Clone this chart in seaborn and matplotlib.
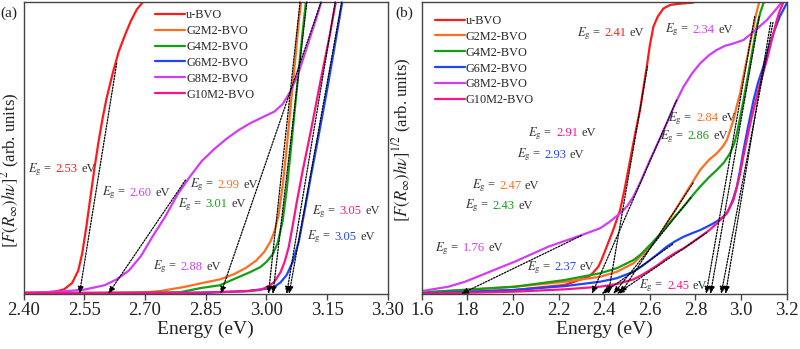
import numpy as np
import matplotlib
matplotlib.use('Agg')
import matplotlib.pyplot as plt
import seaborn as sns
from matplotlib.offsetbox import TextArea, HPacker, AnnotationBbox

# sample names and colours
names = ['u-BVO', 'G2M2-BVO', 'G4M2-BVO', 'G6M2-BVO', 'G8M2-BVO', 'G10M2-BVO']
colors = ['#ff1a1a', '#ff6e1e', '#12a012', '#1f45ff', '#d23cf5', '#fa1488']

# ---- panel (a): [F(R)hv]^2 (arb. units, 0..1)
a_u_e = [2.40, 2.45, 2.48, 2.50, 2.52, 2.535, 2.545, 2.555, 2.565, 2.575, 2.585, 2.595, 2.605, 2.62, 2.635, 2.65, 2.665, 2.68, 2.695, 2.71]
a_u_y = [0.004, 0.005, 0.009, 0.016, 0.038, 0.08, 0.14, 0.23, 0.33, 0.43, 0.52, 0.60, 0.67, 0.755, 0.83, 0.885, 0.935, 0.975, 1.0, 1.02]
a_g2_e = [2.40, 2.60, 2.70, 2.737, 2.80, 2.836, 2.885, 2.92, 2.95, 2.975, 2.995, 3.01, 3.02, 3.03, 3.04, 3.05, 3.06, 3.07, 3.08, 3.09]
a_g2_y = [0.003, 0.004, 0.006, 0.010, 0.025, 0.036, 0.05, 0.068, 0.09, 0.115, 0.145, 0.18, 0.215, 0.27, 0.37, 0.50, 0.645, 0.785, 0.935, 1.05]
a_g4_e = [2.40, 2.70, 2.787, 2.836, 2.885, 2.918, 2.96, 2.985, 3.00, 3.015, 3.028, 3.04, 3.05, 3.06, 3.07, 3.08, 3.09, 3.10]
a_g4_y = [0.003, 0.004, 0.006, 0.02, 0.03, 0.05, 0.075, 0.092, 0.11, 0.135, 0.175, 0.25, 0.355, 0.49, 0.63, 0.77, 0.905, 1.03]
a_g6_e = [2.40, 2.85, 2.95, 3.00, 3.02, 3.035, 3.05, 3.065, 3.08, 3.095, 3.11, 3.13, 3.15, 3.17, 3.186, 3.195]
a_g6_y = [0.003, 0.004, 0.01, 0.018, 0.025, 0.04, 0.065, 0.11, 0.18, 0.29, 0.405, 0.55, 0.70, 0.86, 0.99, 1.05]
a_g8_e = [2.40, 2.45, 2.50, 2.55, 2.60, 2.63, 2.66, 2.69, 2.72, 2.75, 2.78, 2.81, 2.84, 2.87, 2.90, 2.93, 2.96, 2.99, 3.02, 3.04, 3.06, 3.08, 3.10, 3.12, 3.14]
a_g8_y = [0.005, 0.006, 0.009, 0.015, 0.03, 0.05, 0.08, 0.13, 0.20, 0.265, 0.34, 0.40, 0.455, 0.495, 0.53, 0.56, 0.585, 0.605, 0.625, 0.65, 0.695, 0.76, 0.845, 0.93, 1.02]
a_g10_e = [2.40, 2.80, 2.918, 2.96, 2.985, 3.005, 3.02, 3.035, 3.045, 3.055, 3.065, 3.075, 3.09, 3.11, 3.132, 3.157, 3.17, 3.18]
a_g10_y = [0.003, 0.004, 0.008, 0.01, 0.014, 0.026, 0.042, 0.075, 0.11, 0.16, 0.235, 0.315, 0.425, 0.56, 0.718, 0.89, 0.99, 1.05]

# tangent lines: where the arrow hits the axis, and the upper end of the line
a_eg_text = ['2.53', '2.60', '2.88', '2.99', '3.01', '3.05', '3.05']
a_eg_series = [0, 4, 4, 1, 2, 5, 3]
a_tip = [2.538, 2.609, 2.887, 3.005, 3.016, 3.05, 3.056]
a_top_e = [2.63, 2.80, 3.135, 3.083, 3.10, 3.17, 3.186]
a_top_y = [0.79, 0.39, 1.0, 1.0, 1.0, 1.0, 1.0]

# ---- panel (b): [F(R)hv]^(1/2)
b_u_e = [1.60, 1.80, 2.009, 2.228, 2.331, 2.35, 2.375, 2.39, 2.411, 2.44, 2.47, 2.49, 2.514, 2.535, 2.557, 2.572, 2.587, 2.60, 2.616, 2.635, 2.66, 2.69, 2.718, 2.791]
b_u_y = [0.004, 0.007, 0.014, 0.031, 0.059, 0.072, 0.094, 0.12, 0.162, 0.22, 0.288, 0.36, 0.459, 0.545, 0.63, 0.705, 0.779, 0.85, 0.916, 0.95, 0.978, 0.99, 0.993, 0.998]
b_g2_e = [1.60, 2.009, 2.228, 2.382, 2.455, 2.528, 2.56, 2.601, 2.64, 2.674, 2.71, 2.748, 2.785, 2.821, 2.86, 2.894, 2.92, 2.938, 2.95, 2.967, 2.98, 2.996, 3.01, 3.025, 3.04, 3.055, 3.065, 3.08]
b_g2_y = [0.005, 0.025, 0.042, 0.059, 0.076, 0.105, 0.13, 0.162, 0.20, 0.242, 0.285, 0.333, 0.38, 0.425, 0.46, 0.482, 0.505, 0.527, 0.555, 0.596, 0.64, 0.687, 0.745, 0.801, 0.86, 0.916, 0.955, 1.0]
b_g4_e = [1.60, 2.009, 2.228, 2.382, 2.455, 2.528, 2.56, 2.601, 2.64, 2.674, 2.71, 2.748, 2.785, 2.821, 2.86, 2.894, 2.925, 2.952, 2.97, 2.982, 2.995, 3.011, 3.025, 3.04, 3.055, 3.069, 3.085, 3.098, 3.11]
b_g4_y = [0.005, 0.025, 0.048, 0.071, 0.088, 0.116, 0.135, 0.168, 0.20, 0.231, 0.265, 0.299, 0.335, 0.368, 0.40, 0.425, 0.45, 0.482, 0.515, 0.55, 0.60, 0.664, 0.725, 0.79, 0.855, 0.916, 0.965, 0.995, 1.03]
b_g6_e = [1.60, 2.009, 2.228, 2.382, 2.455, 2.528, 2.565, 2.601, 2.64, 2.674, 2.71, 2.748, 2.785, 2.821, 2.85, 2.879, 2.90, 2.923, 2.94, 2.952, 2.965, 2.982, 2.995, 3.011, 3.03, 3.055, 3.075, 3.098, 3.12, 3.142, 3.17, 3.20]
b_g6_y = [0.002, 0.014, 0.027, 0.042, 0.054, 0.076, 0.095, 0.116, 0.14, 0.162, 0.18, 0.196, 0.208, 0.219, 0.23, 0.242, 0.252, 0.265, 0.28, 0.299, 0.325, 0.368, 0.42, 0.493, 0.57, 0.664, 0.725, 0.779, 0.84, 0.893, 0.95, 0.995]
b_g8_e = [1.60, 1.717, 1.79, 1.863, 2.009, 2.155, 2.302, 2.382, 2.42, 2.47, 2.50, 2.528, 2.56, 2.601, 2.64, 2.674, 2.71, 2.748, 2.785, 2.821, 2.86, 2.894, 2.93, 2.967, 3.011, 3.055, 3.113, 3.157, 3.179]
b_g8_y = [0.010, 0.025, 0.042, 0.065, 0.111, 0.162, 0.202, 0.225, 0.245, 0.276, 0.30, 0.333, 0.385, 0.459, 0.525, 0.584, 0.65, 0.71, 0.755, 0.79, 0.818, 0.836, 0.85, 0.858, 0.87, 0.898, 0.938, 0.978, 1.0]
b_g10_e = [1.60, 2.009, 2.228, 2.382, 2.455, 2.528, 2.565, 2.601, 2.64, 2.674, 2.71, 2.748, 2.785, 2.821, 2.86, 2.894, 2.915, 2.938, 2.95, 2.967, 2.98, 2.996, 3.01, 3.025, 3.045, 3.069, 3.09, 3.113, 3.135, 3.157, 3.17, 3.186]
b_g10_y = [0.001, 0.008, 0.016, 0.025, 0.034, 0.05, 0.065, 0.082, 0.102, 0.122, 0.14, 0.156, 0.176, 0.196, 0.218, 0.242, 0.258, 0.276, 0.295, 0.322, 0.36, 0.413, 0.47, 0.527, 0.60, 0.676, 0.74, 0.801, 0.87, 0.938, 0.97, 1.0]

b_eg_text = ['1.76', '2.34', '2.37', '2.41', '2.43', '2.45', '2.47', '2.84', '2.86', '2.91', '2.93']
b_eg_series = [4, 4, 3, 0, 2, 5, 1, 1, 2, 5, 3]
b_tip = [1.772, 2.346, 2.389, 2.418, 2.44, 2.455, 2.47, 2.847, 2.866, 2.913, 2.932]
b_top_e = [2.30, 2.718, 2.70, 2.59, 2.78, 2.85, 2.79, 3.06, 3.08, 3.14, 3.13]
b_top_y = [0.20, 0.664, 0.17, 0.78, 0.33, 0.21, 0.38, 0.95, 0.95, 0.93, 0.93]

# label anchors (left edge, vertical centre), in data units of each panel
a_lab_x = [2.411, 2.594, 2.72, 2.811, 2.782, 3.113, 3.10]
a_lab_y = [0.425, 0.346, 0.092, 0.373, 0.305, 0.281, 0.195]
b_lab_x = [1.658, 2.667, 2.06, 2.28, 1.79, 2.554, 1.819, 2.682, 2.645, 2.068, 2.017]
b_lab_y = [0.156, 0.904, 0.091, 0.893, 0.301, 0.027, 0.37, 0.602, 0.539, 0.55, 0.476]

sns.set_theme(style='white')
plt.rcParams['font.family'] = ['Liberation Serif', 'DejaVu Serif']
plt.rcParams['mathtext.fontset'] = 'stix'
FRAME = '#444444'


def eg_label(ax, x, y, value, color):
    parts = [TextArea(r'$E_{\rm g}$ =', textprops=dict(color='#333333', fontsize=9)),
             TextArea(value, textprops=dict(color=color, fontsize=9)),
             TextArea('eV', textprops=dict(color='#333333', fontsize=9))]
    box = HPacker(children=parts, align='baseline', pad=0, sep=2.5)
    ab = AnnotationBbox(box, (x, y), xycoords='data', frameon=False,
                        box_alignment=(0, 0.5), pad=0)
    ax.add_artist(ab)


def draw_panel(ax, curves, eg_text, eg_series, tip, top_e, top_y, lab_x, lab_y):
    for (e, v), name, c in zip(curves, names, colors):
        sns.lineplot(x=e, y=v, color=c, lw=1.6, label=name, ax=ax)
    for i in range(len(tip)):
        ax.annotate('', xy=(tip[i], 0.0), xytext=(top_e[i], top_y[i]),
                    arrowprops=dict(arrowstyle='-|>,head_length=0.35,head_width=0.14',
                                    color='black', lw=0.9, linestyle=(0, (1.2, 1.2)),
                                    shrinkA=0, shrinkB=0))
        eg_label(ax, lab_x[i], lab_y[i], eg_text[i], colors[eg_series[i]])
    ax.set_ylim(0, 1)
    ax.set_yticks([])
    ax.tick_params(axis='x', bottom=True, direction='out', length=4, width=1,
                   color=FRAME, labelsize=13.5, labelcolor='#222222', pad=2)
    for s in ax.spines.values():
        s.set_color(FRAME)
        s.set_linewidth(1.0)
    ax.set_xlabel('Energy (eV)', fontsize=14, color='#222222', labelpad=1)


fig = plt.figure(figsize=(8, 3.49), dpi=100)
ax1 = fig.add_axes([0.0295, 0.1576, 0.4553, 0.8367])
ax2 = fig.add_axes([0.5271, 0.1576, 0.4562, 0.8367])

curves_a = [(a_u_e, a_u_y), (a_g2_e, a_g2_y), (a_g4_e, a_g4_y),
            (a_g6_e, a_g6_y), (a_g8_e, a_g8_y), (a_g10_e, a_g10_y)]
curves_b = [(b_u_e, b_u_y), (b_g2_e, b_g2_y), (b_g4_e, b_g4_y),
            (b_g6_e, b_g6_y), (b_g8_e, b_g8_y), (b_g10_e, b_g10_y)]

draw_panel(ax1, curves_a, a_eg_text, a_eg_series, a_tip, a_top_e, a_top_y, a_lab_x, a_lab_y)
draw_panel(ax2, curves_b, b_eg_text, b_eg_series, b_tip, b_top_e, b_top_y, b_lab_x, b_lab_y)

ax1.set_xlim(2.40, 3.30)
ax1.set_xticks(np.arange(2.40, 3.31, 0.15))
ax1.set_xticklabels(['2.40', '2.55', '2.70', '2.85', '3.00', '3.15', '3.30'])
ax2.set_xlim(1.6, 3.2)
ax2.set_xticks(np.arange(1.6, 3.21, 0.2))
ax2.set_xticklabels(['1.6', '1.8', '2.0', '2.2', '2.4', '2.6', '2.8', '3.0', '3.2'])

# ylabel anchor is its right edge after rotation
ax1.set_ylabel(r'$[F(R_{\infty})h\nu]^{2}$ (arb. units)', fontsize=12, color='#222222')
ax1.yaxis.set_label_coords(-0.004, 0.425)
ax2.set_ylabel(r'$[F(R_{\infty})h\nu]^{1/2}$ (arb. units)', fontsize=12, color='#222222')
ax2.yaxis.set_label_coords(-0.022, 0.527)

leg_kw = dict(frameon=False, fontsize=8.8, handlelength=2.45, handletextpad=0.1,
              labelspacing=0.32, borderpad=0, borderaxespad=0, loc='upper left')
ax1.legend(bbox_to_anchor=(0.361, 0.976), **leg_kw)
ax2.legend(bbox_to_anchor=(0.036, 0.956), **leg_kw)

fig.text(0.0, 0.963, '(a)', fontsize=11, color='#222222', va='center')
fig.text(0.494, 0.963, '(b)', fontsize=11, color='#222222', va='center')

fig.savefig('out.png', dpi=100)
